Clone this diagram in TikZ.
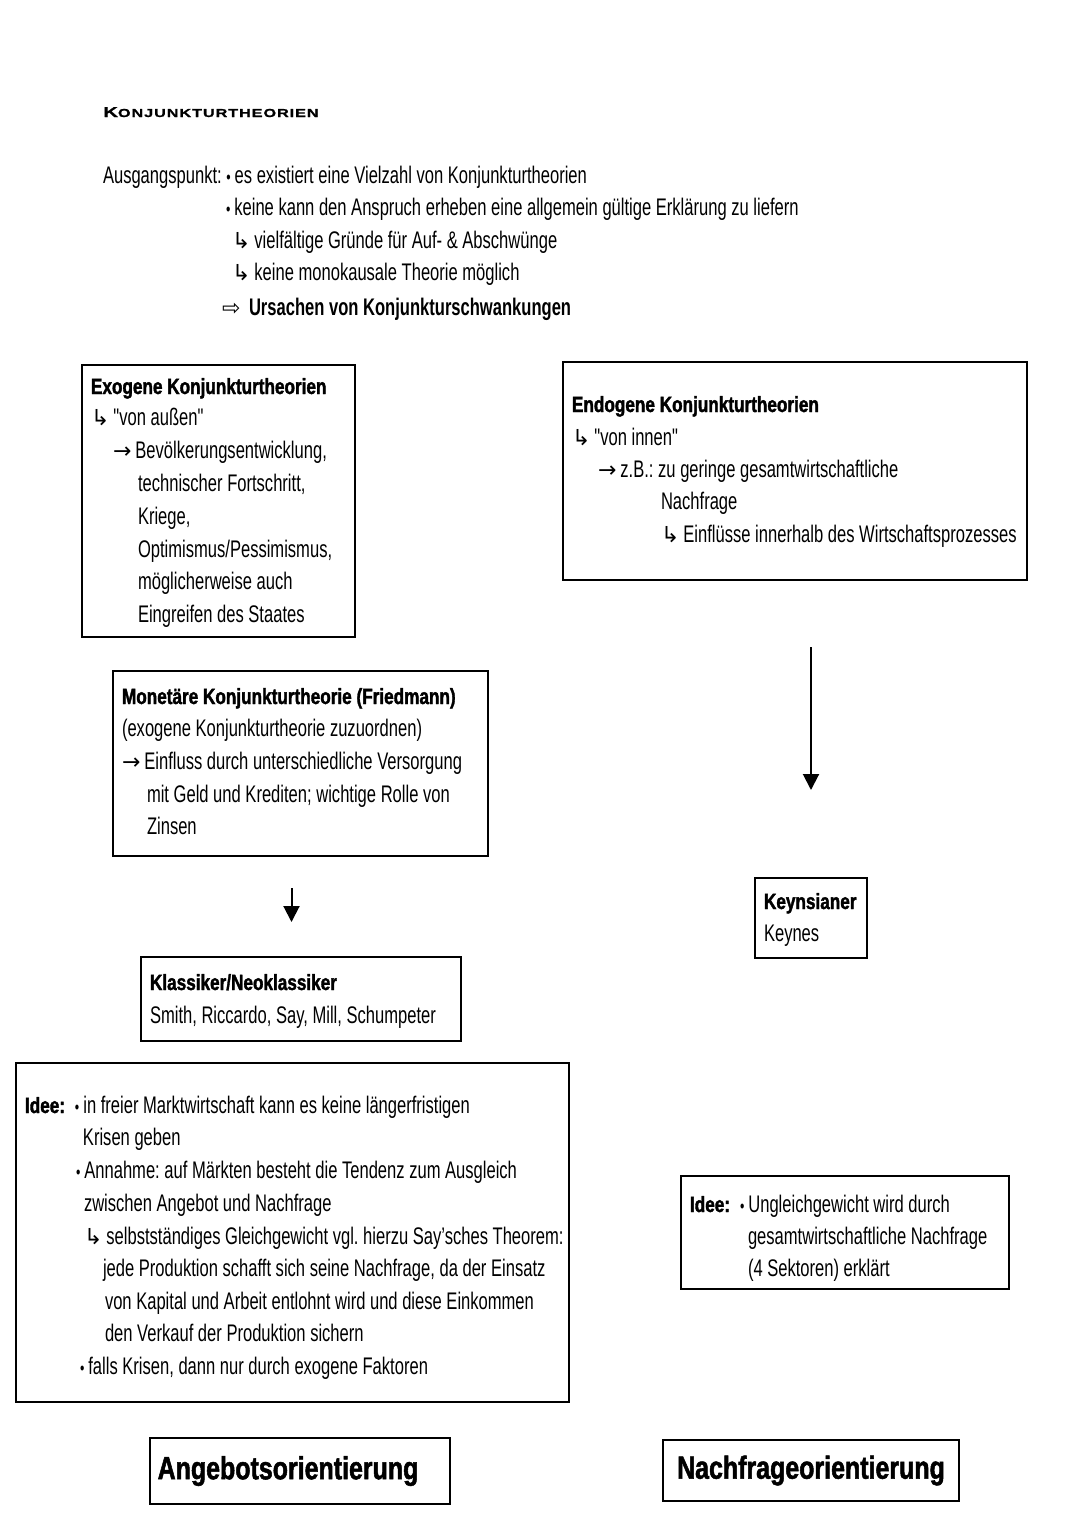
\documentclass[tikz,border=0pt]{standalone}
\usepackage{fontspec}
\setmainfont{Liberation Sans}[FakeStretch=0.69,Ligatures=TeXOff]
\newfontfamily\hd{Liberation Sans}[FakeStretch=0.78,BoldFeatures={FakeBold=1.6}]
\newfontfamily\ttl{Liberation Sans}[FakeStretch=1.4,LetterSpace=8,BoldFeatures={FakeBold=1.2}]
\newfontfamily\sym{DejaVu Sans}
\usetikzlibrary{arrows.meta}
\frenchspacing
\newcommand\hk{{\sym\fontsize{11}{12}\selectfont ↳}\,}
\newcommand\ra{{\sym\fontsize{11}{12}\selectfont →}\,}
\newcommand\bu{{\fontsize{9}{9}\selectfont •}\,}
\tikzset{
  box/.style={draw,line width=1pt,inner sep=0pt,outer sep=0pt,anchor=north west},
  txt/.style={anchor=base west,inner sep=0pt,outer sep=0pt,font=\fontsize{12}{14}\selectfont},
  hdtxt/.style={anchor=base west,inner sep=0pt,outer sep=0pt,font=\hd\bfseries\fontsize{11}{12}\selectfont},
  bigtxt/.style={font=\hd\bfseries\fontsize{16}{18}\selectfont},
  arr/.style={-{Triangle[length=8pt,width=8pt]},line width=1pt}
}
\begin{document}
\begin{tikzpicture}[x=0.5pt,y=-0.5pt]
\fill[white] (0,0) rectangle (1080,1527);
\useasboundingbox (0,0) rectangle (1080,1527);

% title
\node[anchor=base west,inner sep=0pt] (title) at (103,117) {\ttl\bfseries{\fontsize{7.2}{8}\selectfont K}{\fontsize{5.8}{8}\selectfont ONJUNKTURTHEORIEN}};

% intro
\node[txt] (i1) at (103,183) {Ausgangspunkt: \bu es existiert eine Vielzahl von Konjunkturtheorien};
\node[txt] (i2) at (226,215) {\bu keine kann den Anspruch erheben eine allgemein gültige Erklärung zu liefern};
\node[txt] (i3) at (232,248) {\hk vielfältige Gründe für Auf- \& Abschwünge};
\node[txt] (i4) at (232,280) {\hk keine monokausale Theorie möglich};
\node[txt] (i5) at (222,315) {{\sym\fontsize{11}{12}\selectfont ⇨}\, \bfseries Ursachen von Konjunkturschwankungen};

% exogen
\node[box,minimum width=136.5pt,minimum height=136pt] (exo) at (82,365) {};
\node[hdtxt] (e0) at (91,394) {Exogene Konjunkturtheorien};
\node[txt] (e1) at (91,425) {\hk"von außen"};
\node[txt] (e2) at (113,458) {\ra Bevölkerungsentwicklung,};
\node[txt] (e3) at (138,491) {technischer Fortschritt,};
\node[txt] (e4) at (138,524) {Kriege,};
\node[txt] (e5) at (138,557) {Optimismus/Pessimismus,};
\node[txt] (e6) at (138,589) {möglicherweise auch};
\node[txt] (e7) at (138,622) {Eingreifen des Staates};

% endogen
\node[box,minimum width=232pt,minimum height=109pt] (endo) at (563,362) {};
\node[hdtxt] (n0) at (572,412) {Endogene Konjunkturtheorien};
\node[txt] (n1) at (572,445) {\hk"von innen"};
\node[txt] (n2) at (598,477) {\ra z.B.: zu geringe gesamtwirtschaftliche};
\node[txt] (n3) at (661,509) {Nachfrage};
\node[txt] (n4) at (661,542) {\hk Einflüsse innerhalb des Wirtschaftsprozesses};

% monetaer
\node[box,minimum width=187.5pt,minimum height=92.5pt] (mono) at (113,671) {};
\node[hdtxt] (m0) at (122,704) {Monetäre Konjunkturtheorie (Friedmann)};
\node[txt] (m1) at (122,736) {(exogene Konjunkturtheorie zuzuordnen)};
\node[txt] (m2) at (122,769) {\ra Einfluss durch unterschiedliche Versorgung};
\node[txt] (m3) at (147,802) {mit Geld und Krediten; wichtige Rolle von};
\node[txt] (m4) at (147,834) {Zinsen};

% klassiker
\node[box,minimum width=160pt,minimum height=42pt] (klass) at (141,957) {};
\node[hdtxt] (k0) at (150,990) {Klassiker/Neoklassiker};
\node[txt] (k1) at (150,1023) {Smith, Riccardo, Say, Mill, Schumpeter};

% idee links
\node[box,minimum width=276.5pt,minimum height=169.5pt] (ideeL) at (16,1063) {};
\node[hdtxt] (l0) at (25,1113) {Idee:};
\node[txt] (l1) at (75,1113) {\bu in freier Marktwirtschaft kann es keine längerfristigen};
\node[txt] (l2) at (83,1145) {Krisen geben};
\node[txt] (l3) at (76,1178) {\bu Annahme: auf Märkten besteht die Tendenz zum Ausgleich};
\node[txt] (l4) at (84,1211) {zwischen Angebot und Nachfrage};
\node[txt] (l5) at (84,1244) {\hk selbstständiges Gleichgewicht vgl. hierzu Say’sches Theorem:};
\node[txt] (l6) at (103,1276) {jede Produktion schafft sich seine Nachfrage, da der Einsatz};
\node[txt] (l7) at (105,1309) {von Kapital und Arbeit entlohnt wird und diese Einkommen};
\node[txt] (l8) at (105,1341) {den Verkauf der Produktion sichern};
\node[txt] (l9) at (80,1374) {\bu falls Krisen, dann nur durch exogene Faktoren};

% angebot
\node[box,bigtxt,minimum width=150pt,minimum height=33pt] (ang) at (150,1438) {Angebotsorientierung\hspace*{12pt}};

% keynes
\node[box,minimum width=56pt,minimum height=40pt] (keyn) at (755,878) {};
\node[hdtxt] (y0) at (764,909) {Keynsianer};
\node[txt] (y1) at (764,941) {Keynes};

% idee rechts
\node[box,minimum width=164pt,minimum height=56.5pt] (ideeR) at (681,1176) {};
\node[hdtxt] (r0) at (690,1212) {Idee:};
\node[txt] (r1) at (740,1212) {\bu Ungleichgewicht wird durch};
\node[txt] (r2) at (748,1244) {gesamtwirtschaftliche Nachfrage};
\node[txt] (r3) at (748,1276) {(4 Sektoren) erklärt};

% nachfrage
\node[box,bigtxt,minimum width=148pt,minimum height=30.5pt] (nach) at (663,1440) {Nachfrageorientierung};

% arrows
\draw[arr,shorten <=33.5pt,shorten >=44pt] (endo.south -| keyn.north) -- (keyn.north);
\draw[arr,shorten <=16pt,shorten >=17.5pt] ([xshift=-4.5pt]mono.south) -- ([xshift=-4.5pt]mono.south |- klass.north);
\end{tikzpicture}
\end{document}
